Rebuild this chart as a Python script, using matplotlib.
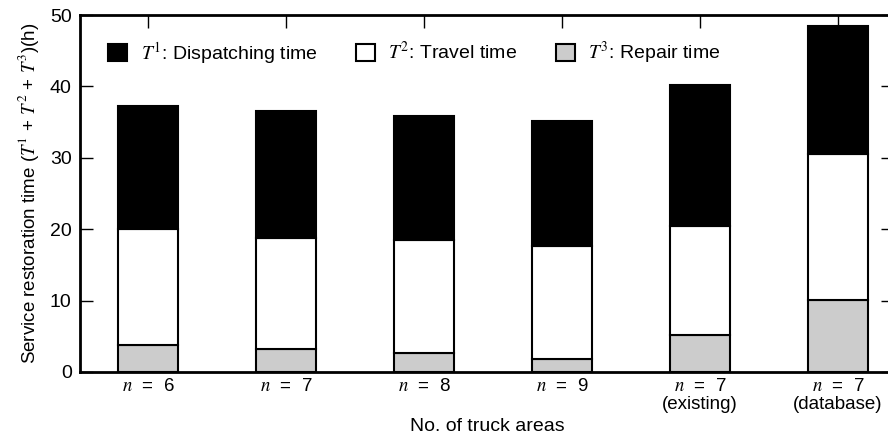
import numpy as np
import matplotlib
matplotlib.use("Agg")
import matplotlib.pyplot as plt

plt.rcParams['font.family'] = ['Liberation Sans', 'DejaVu Sans']
plt.rcParams['mathtext.fontset'] = 'stix'

# data
labels = ['$n$  =  6', '$n$  =  7', '$n$  =  8', '$n$  =  9',
          '$n$  =  7\n(existing)', '$n$  =  7\n(database)']
repair = [3.8, 3.2, 2.7, 1.8, 5.2, 10.1]
travel_top = [20.0, 18.8, 18.5, 17.7, 20.4, 30.5]
total = [37.3, 36.5, 35.9, 35.1, 40.2, 48.5]

repair = np.array(repair)
travel = np.array(travel_top) - repair
dispatch = np.array(total) - np.array(travel_top)

x = np.arange(len(labels))
w = 0.43

W, H = 888, 443
fig = plt.figure(figsize=(W / 100, H / 100), dpi=100)
# right spine sits just outside the picture, as in the original
ax = fig.add_axes([80 / W, 1 - 372 / H, 814 / W, 357 / H])

ax.bar(x, repair, w, color='#cccccc', edgecolor='black', linewidth=1.5,
       label='$T^3$: Repair time')
ax.bar(x, travel, w, bottom=repair, color='white', edgecolor='black',
       linewidth=1.5, label='$T^2$: Travel time')
ax.bar(x, dispatch, w, bottom=repair + travel, color='black',
       edgecolor='black', linewidth=1.5, label='$T^1$: Dispatching time')

ax.set_xlim(-0.493, 5.406)
ax.set_ylim(0, 50)
ax.set_yticks([0, 10, 20, 30, 40, 50])
ax.set_xticks(x)
ax.set_xticklabels(labels, fontsize=13.5, linespacing=1.1)
ax.tick_params(axis='y', direction='in', right=True, length=9.5, width=1,
               labelsize=14, pad=6)
ax.tick_params(axis='x', direction='in', top=True, bottom=False, length=9.5,
               width=1, pad=4)
for s in ax.spines.values():
    s.set_linewidth(2)

ax.set_xlabel('No. of truck areas', fontsize=14, labelpad=4)
ax.set_ylabel('Service restoration time ($T^1$ + $T^2$ + $T^3$)(h)',
              fontsize=13.5, labelpad=6)

h, l = ax.get_legend_handles_labels()
ax.legend(h[::-1], l[::-1], ncol=3, loc='center left', frameon=False,
          fontsize=14, handlelength=0.95, handleheight=0.95,
          columnspacing=2.0, handletextpad=0.7, borderpad=0,
          borderaxespad=0, bbox_to_anchor=(0.035, 0.894))

fig.savefig('out.png', dpi=100)
